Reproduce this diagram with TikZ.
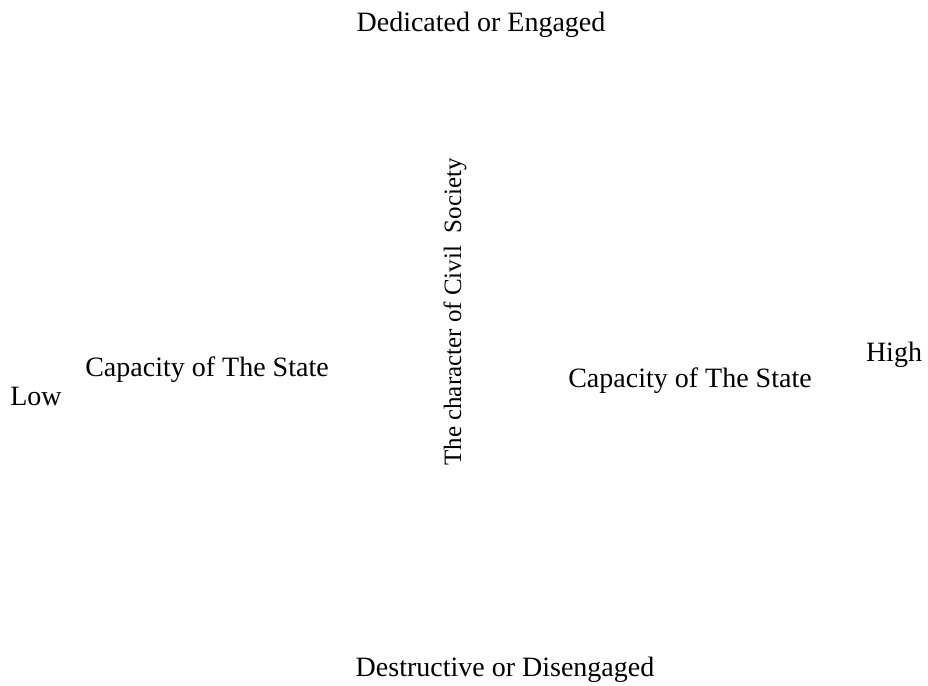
\documentclass[tikz,border=0pt]{standalone}
\usepackage{fontspec}
\setmainfont{Liberation Serif}
\begin{document}
\begin{tikzpicture}
		[x=0.5pt,y=-0.5pt,
		labelDecorate/.style={inner sep=0pt,font=\fontsize{14}{16}\selectfont},%
		axisDecorate/.style={labelDecorate,rotate=90,font=\fontsize{12.5}{15}\selectfont}]
		\useasboundingbox (0,0) rectangle (928,686);
		%% labels of the quadrants
		\foreach \nodename/\x/\y/\text in {
			top/481/25/Dedicated or Engaged, bottom/505/670/Destructive or Disengaged,
			low/36/396/Low, high/894/355/High,
			leftcap/207/370/Capacity of The State, rightcap/690/381/Capacity of The State}
		{
			\node (\nodename) at (\x,\y) [labelDecorate] {\text};
		}
		%% vertical axis text
		\node (civil) at (455,312) [axisDecorate] {The character of Civil\ \ Society};
	\end{tikzpicture}
\end{document}
